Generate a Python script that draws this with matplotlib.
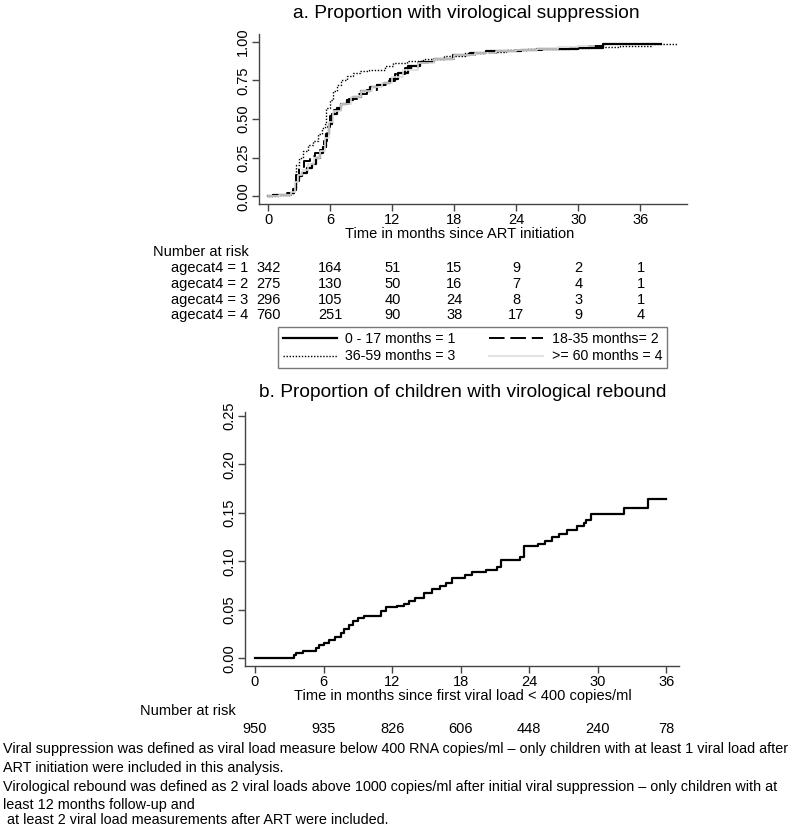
import numpy as np
import matplotlib.pyplot as plt
from matplotlib.transforms import blended_transform_factory

plt.rcParams['font.family'] = ['Liberation Sans', 'DejaVu Sans']

# --- Panel a: cumulative proportion with virological suppression by age group ---
t1 = [0, 0.5, 1.5, 2.2, 2.5, 2.7, 3.0, 3.3, 3.7, 4.2, 4.6, 5.0, 5.3, 5.6, 5.9, 6.2, 6.6, 7.0, 7.6,
      8.2, 9.0, 9.8, 10.5, 11.2, 11.8, 12.5, 13.5, 14.7, 16.0, 17.9, 19.5, 21.1, 23.0, 24.4, 26.0,
      28.0, 30.0, 32.4, 38.0]
v1 = [0, 0.005, 0.01, 0.02, 0.04, 0.10, 0.13, 0.15, 0.18, 0.21, 0.25, 0.28, 0.32, 0.40, 0.47, 0.53,
      0.57, 0.60, 0.62, 0.645, 0.68, 0.705, 0.72, 0.735, 0.76, 0.80, 0.84, 0.87, 0.89, 0.915, 0.93,
      0.94, 0.942, 0.945, 0.95, 0.955, 0.96, 0.987, 0.987]

t2 = [0, 0.8, 1.8, 2.4, 2.7, 3.0, 3.5, 4.0, 4.5, 5.0, 5.4, 5.7, 6.0, 6.4, 7.0, 7.8, 8.6, 9.5, 10.5,
      11.5, 12.3, 13.2, 14.5, 16.0, 18.0, 20.0, 22.0, 24.0, 26.5, 29.0, 31.0, 33.0]
v2 = [0, 0.01, 0.02, 0.05, 0.14, 0.19, 0.23, 0.26, 0.28, 0.30, 0.36, 0.45, 0.52, 0.56, 0.60, 0.63,
      0.66, 0.69, 0.72, 0.745, 0.79, 0.83, 0.86, 0.89, 0.915, 0.93, 0.94, 0.945, 0.955, 0.96, 0.97,
      0.97]

t3 = [0, 1.0, 2.0, 2.5, 2.7, 3.0, 3.4, 3.8, 4.3, 4.8, 5.2, 5.5, 5.6, 6.0, 6.3, 6.6, 7.0, 7.6, 8.2,
      8.9, 9.7, 10.5, 11.3, 12.1, 13.4, 15.0, 17.0, 19.0, 21.0, 23.0, 25.0, 27.0, 29.0, 31.0, 34.0,
      37.0, 39.6]
v3 = [0, 0.005, 0.02, 0.06, 0.20, 0.25, 0.29, 0.33, 0.36, 0.40, 0.44, 0.47, 0.57, 0.62, 0.68, 0.72,
      0.75, 0.78, 0.80, 0.81, 0.815, 0.82, 0.84, 0.86, 0.875, 0.89, 0.91, 0.925, 0.935, 0.945, 0.95,
      0.955, 0.96, 0.965, 0.975, 0.985, 0.985]

t4 = [0, 1.0, 2.2, 2.6, 2.9, 3.3, 3.8, 4.4, 5.0, 5.5, 5.9, 6.3, 7.0, 8.0, 9.0, 10.0, 11.0, 12.0,
      13.0, 14.5, 16.0, 18.0, 20.0, 22.0, 24.0, 26.0, 28.0, 30.0, 31.5]
v4 = [0, 0.01, 0.03, 0.09, 0.14, 0.17, 0.21, 0.25, 0.29, 0.38, 0.48, 0.55, 0.60, 0.64, 0.68, 0.71,
      0.73, 0.77, 0.82, 0.86, 0.89, 0.915, 0.93, 0.94, 0.945, 0.955, 0.965, 0.97, 0.97]

risk_times = [0, 6, 12, 18, 24, 30, 36]
risk_labels_a = ['agecat4 = 1', 'agecat4 = 2', 'agecat4 = 3', 'agecat4 = 4']
risk_a = [[342, 164, 51, 15, 9, 2, 1],
          [275, 130, 50, 16, 7, 4, 1],
          [296, 105, 40, 24, 8, 3, 1],
          [760, 251, 90, 38, 17, 9, 4]]
legend_labels = ['0 - 17 months = 1', '18-35 months= 2', '36-59 months = 3', '>= 60 months = 4']

# --- Panel b: cumulative proportion with virological rebound ---
tb = [0, 3.4, 3.6, 4.2, 5.3, 5.6, 6.0, 6.5, 7.0, 7.5, 7.8, 8.2, 8.6, 9.0, 9.5, 10.6, 11.0, 11.5,
      12.4, 13.0, 13.5, 14.0, 14.8, 15.5, 16.2, 16.7, 17.2, 18.4, 19.0, 20.2, 21.2, 21.5, 23.2, 23.5,
      24.8, 25.4, 26.0, 26.6, 27.3, 28.2, 28.8, 29.0, 29.4, 32.3, 34.4, 36.0]
vb = [0, 0.003, 0.005, 0.007, 0.011, 0.014, 0.016, 0.019, 0.022, 0.026, 0.030, 0.034, 0.038, 0.041,
      0.044, 0.044, 0.049, 0.053, 0.054, 0.056, 0.059, 0.062, 0.067, 0.071, 0.075, 0.078, 0.083,
      0.086, 0.089, 0.091, 0.094, 0.101, 0.104, 0.116, 0.118, 0.121, 0.125, 0.128, 0.132, 0.136,
      0.139, 0.143, 0.149, 0.155, 0.164, 0.164]
risk_b = [950, 935, 826, 606, 448, 240, 78]

footnote = [
    "Viral suppression was defined as viral load measure below 400 RNA copies/ml \u2013 only children with at least 1 viral load after",
    "ART initiation were included in this analysis.",
    "Virological rebound was defined as 2 viral loads above 1000 copies/ml after initial viral suppression \u2013 only children with at",
    "least 12 months follow-up and",
    " at least 2 viral load measurements after ART were included.",
]

W, H = 800, 827
fig = plt.figure(figsize=(W / 100, H / 100), dpi=100)


def fy(y):
    return 1 - y / H


def style_axes(ax):
    for s in ['top', 'right']:
        ax.spines[s].set_visible(False)
    for s in ['left', 'bottom']:
        ax.spines[s].set_color('#444444')
        ax.spines[s].set_linewidth(1.0)
    ax.tick_params(direction='out', length=5, width=1, color='#444444', labelsize=10.5, pad=1.5)
    for lab in ax.get_yticklabels():
        lab.set_rotation(90)
        lab.set_va('center')


# Panel a
ax1 = fig.add_axes([259 / W, fy(204), 428 / W, 170 / H])
l1, = ax1.plot(t1, v1, drawstyle='steps-post', color='black', lw=1.6, ls='-')
l2, = ax1.plot(t2, v2, drawstyle='steps-post', color='black', lw=1.4, ls=(0, (8, 3)))
l3, = ax1.plot(t3, v3, drawstyle='steps-post', color='black', lw=1.0, ls=(0, (1, 1.2)))
l4, = ax1.plot(t4, v4, drawstyle='steps-post', color='#dddddd', lw=1.2, ls='-')
ax1.set_xlim(-0.9, 40.5)
ax1.set_ylim(-0.05, 1.05)
ax1.set_xticks(risk_times)
ax1.set_yticks([0, 0.25, 0.5, 0.75, 1.0])
ax1.set_yticklabels(['0.00', '0.25', '0.50', '0.75', '1.00'])
style_axes(ax1)
fig.text(466 / W, fy(14), 'a. Proportion with virological suppression', fontsize=13.8,
         ha='center', va='center')
fig.text(460 / W, fy(234), 'Time in months since ART initiation', fontsize=10.5,
         ha='center', va='center')

tra = blended_transform_factory(ax1.transData, fig.transFigure)
fig.text(153 / W, fy(252), 'Number at risk', fontsize=10.5, ha='left', va='center')
row_y = [268, 284, 300, 315]
for lab, row, y in zip(risk_labels_a, risk_a, row_y):
    fig.text(248 / W, fy(y), lab, fontsize=10.5, ha='right', va='center')
    for t, n in zip(risk_times, row):
        ax1.text(t, fy(y), str(n), transform=tra, fontsize=10.5, ha='center', va='center')

leg = fig.legend([l1, l3, l2, l4], [legend_labels[0], legend_labels[2], legend_labels[1], legend_labels[3]],
                 ncol=2, loc='upper left', bbox_to_anchor=(278 / W, fy(370), 389 / W, 43 / H),
                 mode='expand', fancybox=False, edgecolor='#555555', fontsize=10.2,
                 handlelength=3.8, handletextpad=0.6, borderaxespad=0, labelspacing=0.25,
                 columnspacing=1.5, borderpad=0.35)
leg.get_frame().set_linewidth(1.0)

# Panel b
ax2 = fig.add_axes([245 / W, fy(666), 434 / W, 254 / H])
ax2.plot(tb, vb, drawstyle='steps-post', color='black', lw=1.6)
ax2.set_xlim(-0.87, 37.1)
ax2.set_ylim(-0.008, 0.254)
ax2.set_xticks(risk_times)
ax2.set_yticks([0, 0.05, 0.10, 0.15, 0.20, 0.25])
ax2.set_yticklabels(['0.00', '0.05', '0.10', '0.15', '0.20', '0.25'])
style_axes(ax2)
fig.text(463 / W, fy(393), 'b. Proportion of children with virological rebound', fontsize=13.8,
         ha='center', va='center')
fig.text(463 / W, fy(696), 'Time in months since first viral load < 400 copies/ml', fontsize=10.5,
         ha='center', va='center')
trb = blended_transform_factory(ax2.transData, fig.transFigure)
fig.text(140 / W, fy(711), 'Number at risk', fontsize=10.5, ha='left', va='center')
for t, n in zip(risk_times, risk_b):
    ax2.text(t, fy(729), str(n), transform=trb, fontsize=10.5, ha='center', va='center')

foot_y = [749, 768, 787, 805, 820]
for line, y in zip(footnote, foot_y):
    fig.text(3 / W, fy(y), line, fontsize=10.4, ha='left', va='center')

fig.savefig('out.png', dpi=100)
